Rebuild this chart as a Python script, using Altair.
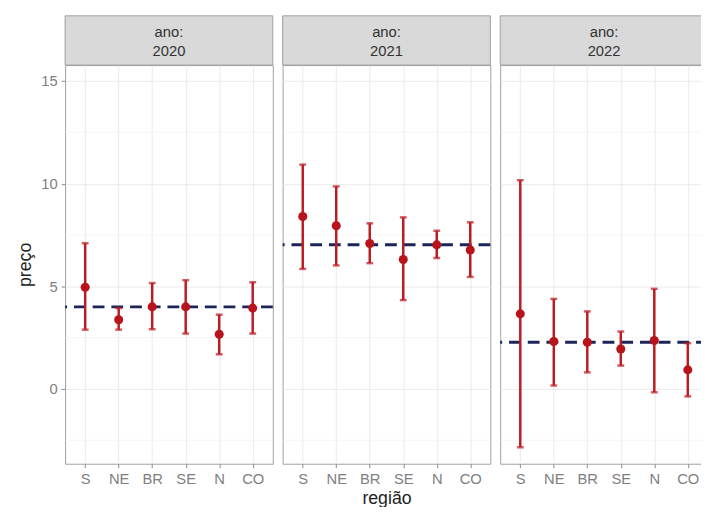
import altair as alt
import pandas as pd

regioes = ["S", "NE", "BR", "SE", "N", "CO"]
anos = [2020, 2021, 2022]

media_2020 = [4.96, 3.37, 4.00, 4.00, 2.67, 3.94]
inf_2020 = [2.89, 2.89, 2.91, 2.70, 1.69, 2.70]
sup_2020 = [7.10, 3.94, 5.16, 5.30, 3.62, 5.20]

media_2021 = [8.40, 7.95, 7.09, 6.31, 7.02, 6.77]
inf_2021 = [5.85, 6.02, 6.13, 4.33, 6.38, 5.46]
sup_2021 = [10.93, 9.87, 8.07, 8.36, 7.71, 8.12]

media_2022 = [3.66, 2.31, 2.28, 1.95, 2.36, 0.93]
inf_2022 = [-2.84, 0.17, 0.81, 1.14, -0.16, -0.36]
sup_2022 = [10.17, 4.39, 3.78, 2.80, 4.88, 2.23]

ref_ano = [4.00, 7.03, 2.28]

y_major = [0, 5, 10, 15]
y_minor = [-2.5, 2.5, 7.5, 12.5]
y_dominio = [-3.64, 15.78]

medias = [media_2020, media_2021, media_2022]
infs = [inf_2020, inf_2021, inf_2022]
sups = [sup_2020, sup_2021, sup_2022]

FONT = "Liberation Sans"
W = 211
H = 405
RED = "#BE1A22"
NAVY = "#1C2558"


def panel(i):
    ano = anos[i]
    df = pd.DataFrame({"regiao": regioes, "media": medias[i], "inf": infs[i], "sup": sups[i]})

    xscale = alt.Scale(type="point", padding=0.6)
    xaxis = alt.Axis(
        title="região" if i == 1 else None,
        labelAngle=0,
        grid=True,
    )
    yscale = alt.Scale(domain=y_dominio, nice=False, zero=False)
    if i == 0:
        yaxis = alt.Axis(title="preço", values=y_major, grid=True)
    else:
        yaxis = alt.Axis(title=None, values=y_major, grid=True, labels=False, ticks=False)

    X = alt.X("regiao:N", sort=regioes, scale=xscale, axis=xaxis)

    def Y(field):
        return alt.Y(field, type="quantitative", scale=yscale, axis=yaxis)

    minor = alt.Chart(pd.DataFrame({"v": y_minor})).mark_rule(
        color="#EFEFEF", strokeWidth=0.6
    ).encode(y=Y("v"))

    ref = alt.Chart(pd.DataFrame({"ano": [ano], "ref": [ref_ano[i]]})).mark_rule(
        color=NAVY, strokeWidth=3, strokeDash=[12, 7]
    ).encode(y=Y("ref"))

    base = alt.Chart(df)
    bars = base.mark_rule(color=RED, strokeWidth=2.5).encode(x=X, y=Y("inf"), y2="sup:Q")
    cap_lo = base.mark_tick(color=RED, orient="horizontal", size=7, thickness=2.5).encode(x=X, y=Y("inf"))
    cap_hi = base.mark_tick(color=RED, orient="horizontal", size=7, thickness=2.5).encode(x=X, y=Y("sup"))
    pts = base.mark_circle(color="#B8141C", size=85, opacity=1).encode(x=X, y=Y("media"))

    strip_df = pd.DataFrame({"ano": [str(ano)], "rotulo": ["ano:"]})
    strip = alt.Chart(strip_df).mark_rect(
        fill="#D9D9D9", stroke="#A0A0A0", strokeWidth=1
    ).encode(
        x=alt.value(0), x2=alt.value(W), y=alt.value(-50), y2=alt.value(0)
    )
    t1 = alt.Chart(strip_df).mark_text(
        font=FONT, fontSize=15, color="#333333", baseline="middle", align="center"
    ).encode(x=alt.value(W / 2), y=alt.value(-34), text="rotulo:N")
    t2 = alt.Chart(strip_df).mark_text(
        font=FONT, fontSize=15, color="#333333", baseline="middle", align="center"
    ).encode(x=alt.value(W / 2), y=alt.value(-14), text="ano:N")

    return alt.layer(minor, ref, bars, cap_lo, cap_hi, pts, strip, t1, t2).properties(
        width=W, height=H
    )


chart = alt.hconcat(panel(0), panel(1), panel(2), spacing=6).properties(
    padding={"left": 8, "top": 3, "right": -9, "bottom": -5}
).configure_view(
    stroke="#A0A0A0", strokeWidth=1
).configure_axis(
    domain=False,
    gridColor="#EBEBEB",
    gridWidth=1,
    tickColor="#888888",
    tickSize=4,
    labelFont=FONT,
    labelFontSize=15,
    labelColor="#808080",
    labelPadding=4,
    titleFont=FONT,
    titleFontSize=18,
    titleFontWeight="normal",
    titleColor="#222222",
).configure_axisX(
    titlePadding=3,
).configure_axisY(
    titlePadding=6,
)

chart.save("out.html", embed_options={"renderer": "svg", "actions": False})
